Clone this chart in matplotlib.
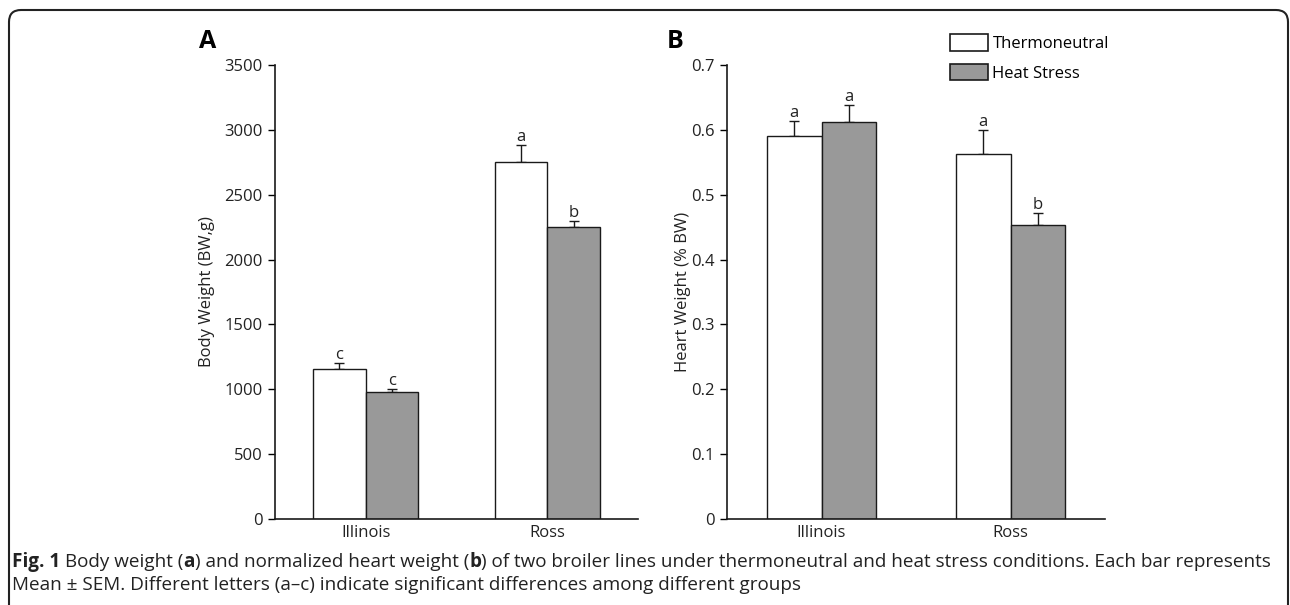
import numpy as np
import matplotlib.pyplot as plt
from matplotlib.patches import Patch, FancyBboxPatch
from matplotlib.transforms import IdentityTransform

# data
lines = ["Illinois", "Ross"]
groups = ["Thermoneutral", "Heat Stress"]

bw_tn = [1160, 2750]
bw_hs = [980, 2250]
bw_tn_err = [40, 130]
bw_hs_err = [25, 50]
bw_tn_lett = ["c", "a"]
bw_hs_lett = ["c", "b"]

hw_tn = [0.590, 0.563]
hw_hs = [0.612, 0.453]
hw_tn_err = [0.023, 0.037]
hw_hs_err = [0.027, 0.019]
hw_tn_lett = ["a", "a"]
hw_hs_lett = ["a", "b"]

W, H = 1290, 605
font = "Open Sans"
plt.rcParams["font.family"] = [font, "DejaVu Sans"]

fig = plt.figure(figsize=(W / 100, H / 100), dpi=100)

def px_axes(x0, x1, y0, y1):
    return fig.add_axes([x0 / W, 1 - y1 / H, (x1 - x0) / W, (y1 - y0) / H])

axA = px_axes(275, 638, 65, 519)
axB = px_axes(727, 1105, 65, 519)

bw = 0.29
x = np.arange(len(lines))
edge = "#1a1a1a"
txt = "#222222"

def draw(ax, tn, hs, tn_err, hs_err, tn_l, hs_l, ymax, step, fmt, ylabel):
    ax.bar(x - bw / 2, tn, bw, color="white", edgecolor=edge, linewidth=1.0, zorder=2)
    ax.bar(x + bw / 2, hs, bw, color="#999999", edgecolor=edge, linewidth=1.0, zorder=2)
    for xs, vals, errs, lets in [(x - bw / 2, tn, tn_err, tn_l), (x + bw / 2, hs, hs_err, hs_l)]:
        ax.errorbar(xs, vals, yerr=[np.zeros(len(vals)), errs], fmt="none",
                    ecolor=edge, elinewidth=1.0, capsize=3.5, capthick=1.0, zorder=1)
        for xi, v, e, l in zip(xs, vals, errs, lets):
            ax.annotate(l, (xi, v + e), xytext=(0, 0), textcoords="offset points",
                        ha="center", va="bottom", fontsize=12, color=txt)
    ax.set_xlim(-0.5, 1.5)
    ax.set_ylim(0, ymax)
    ticks = np.arange(0, ymax + step / 2, step)
    ax.set_yticks(ticks)
    ax.set_yticklabels([fmt(t) for t in ticks])
    ax.set_xticks(x)
    ax.set_xticklabels(lines)
    ax.tick_params(axis="x", length=0, pad=4, labelsize=12, labelcolor=txt)
    ax.tick_params(axis="y", length=5, width=1.0, pad=4, labelsize=12, labelcolor=txt)
    for s in ["top", "right"]:
        ax.spines[s].set_visible(False)
    for s in ["left", "bottom"]:
        ax.spines[s].set_linewidth(1.2)
        ax.spines[s].set_color(edge)
    ax.set_ylabel(ylabel, fontsize=12, color=txt)

draw(axA, bw_tn, bw_hs, bw_tn_err, bw_hs_err, bw_tn_lett, bw_hs_lett,
     3500, 500, lambda t: f"{int(t)}", "Body Weight (BW,g)")
draw(axB, hw_tn, hw_hs, hw_tn_err, hw_hs_err, hw_tn_lett, hw_hs_lett,
     0.7, 0.1, lambda t: "0" if t == 0 else f"{t:.1f}", "Heart Weight (% BW)")
axA.yaxis.set_label_coords(-0.165, 0.5)
axB.yaxis.set_label_coords(-0.095, 0.5)

fig.text(208 / W, 1 - 41 / H, "A", fontsize=18, fontweight="bold", ha="center", va="center")
fig.text(675 / W, 1 - 41 / H, "B", fontsize=18, fontweight="bold", ha="center", va="center")

handles = [Patch(facecolor="white", edgecolor=edge, linewidth=1.2),
           Patch(facecolor="#999999", edgecolor=edge, linewidth=1.2)]
fig.legend(handles, groups, loc="upper left", bbox_to_anchor=(950 / W, 1 - 34 / H),
           frameon=False, fontsize=12, handlelength=2.3, handleheight=1.15,
           handletextpad=0.25, labelspacing=0.7, borderpad=0, borderaxespad=0)

# caption, pieces placed one after another so the bold letters sit inline
cap_fs = 13.6
line1 = [("Fig. 1 ", "bold"), ("Body weight (", "normal"), ("a", "bold"),
         (") and normalized heart weight (", "normal"), ("b", "bold"),
         (") of two broiler lines under thermoneutral and heat stress conditions. "
          "Each bar represents", "normal")]
xpos = 12
for s, wgt in line1:
    t = fig.text(xpos / W, 1 - 562 / H, s, fontsize=cap_fs, fontweight=wgt,
                 va="center", ha="left", color=txt)
    fig.canvas.draw()
    xpos = t.get_window_extent().x1
fig.text(12 / W, 1 - 585 / H,
         "Mean \u00b1 SEM. Different letters (a\u2013c) indicate significant differences among different groups",
         fontsize=cap_fs, va="center", ha="left", color=txt)

# rounded frame around the figure
frame = FancyBboxPatch((9, -40), 1279, H - 10 + 40,
                       boxstyle="round,pad=0,rounding_size=12",
                       transform=IdentityTransform(), facecolor="none",
                       edgecolor=txt, linewidth=1.5)
fig.add_artist(frame)

fig.savefig("out.png", dpi=100)
